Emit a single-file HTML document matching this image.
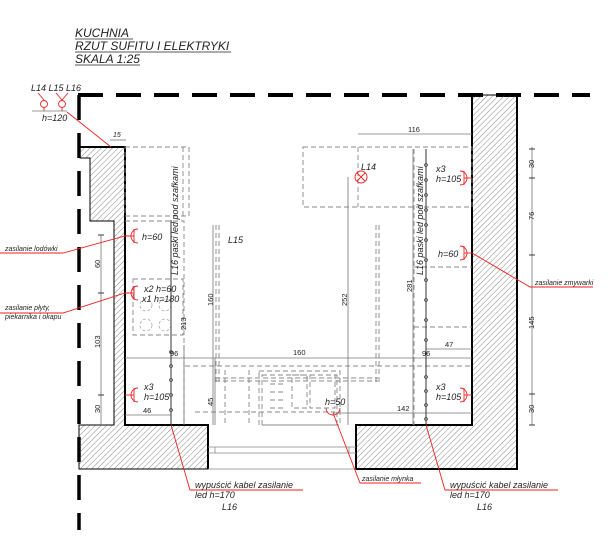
<!DOCTYPE html>
<html><head><style>
html,body{margin:0;padding:0;background:#fff;}
svg{display:block;font-family:"Liberation Sans",sans-serif;font-style:italic;}
</style></head><body>
<svg width="616" height="544" viewBox="0 0 616 544" xmlns="http://www.w3.org/2000/svg">
<defs>
<pattern id="h" patternUnits="userSpaceOnUse" width="4" height="4" patternTransform="rotate(45)">
<line x1="0" y1="0" x2="0" y2="4" stroke="#555" stroke-width="0.7"/>
</pattern>
</defs>
<g font-size="12" fill="#222">
<text x="75" y="37">KUCHNIA</text>
<text x="75" y="50">RZUT SUFITU I ELEKTRYKI</text>
<text x="75" y="63">SKALA 1:25</text>
</g>
<g stroke="#222" stroke-width="0.8">
<line x1="75" y1="39" x2="133" y2="39"/>
<line x1="75" y1="52" x2="231" y2="52"/>
<line x1="75" y1="65" x2="140" y2="65"/>
</g>
<line x1="78" y1="95" x2="590" y2="95" stroke="#000" stroke-width="4" stroke-dasharray="25,13"/>
<line x1="79" y1="95" x2="79" y2="530" stroke="#000" stroke-width="3.5" stroke-dasharray="25,13"/>
<path d="M80,147 H125 V425 H208 V469 H79 V425 H114 V221 H90 V158 H80 Z" fill="url(#h)" stroke="#000" stroke-width="1"/>
<path d="M472,95 H517 V469 H356 V425 H472 Z" fill="url(#h)" stroke="#000" stroke-width="1"/>
<g stroke="#000" stroke-width="2" fill="none">
<path d="M80,147 H125 V425 H208 V469"/>
<path d="M472,95 V425 H356 V469 H517 V95"/>
</g>
<g stroke="#888" stroke-width="0.8">
<line x1="208" y1="447" x2="356" y2="447"/><line x1="208" y1="453" x2="356" y2="453"/>
<line x1="208" y1="469" x2="356" y2="469"/><line x1="215" y1="447" x2="215" y2="453"/><line x1="349" y1="447" x2="349" y2="453"/>
</g>
<g stroke="#888" stroke-width="0.9" fill="none" stroke-dasharray="5,3">
<rect x="125" y="147" width="64" height="69"/>
<line x1="183" y1="147" x2="183" y2="216"/>
<path d="M125,221 H184 V425"/>
<rect x="133" y="279" width="50" height="56"/>
<rect x="303" y="147" width="169" height="60"/>
<line x1="358" y1="147" x2="358" y2="207"/>
<path d="M414,149 V425"/><path d="M414,267 H472"/><path d="M414,327 H472"/>
<line x1="185" y1="366" x2="472" y2="366"/>
<line x1="216" y1="225" x2="216" y2="385"/><line x1="219" y1="225" x2="219" y2="385"/>
<line x1="376" y1="225" x2="376" y2="385"/><line x1="379" y1="225" x2="379" y2="385"/>
<line x1="215" y1="378" x2="378" y2="378"/><line x1="215" y1="381" x2="378" y2="381"/>
<rect x="259" y="371" width="81" height="54"/>
<rect x="262" y="375" width="75" height="50"/>
<rect x="292" y="375" width="15" height="33"/>
<rect x="310" y="375" width="25" height="33"/>
<line x1="225" y1="370" x2="225" y2="425"/><line x1="249" y1="370" x2="249" y2="425"/>
<line x1="270" y1="384" x2="285" y2="384"/><line x1="270" y1="392" x2="285" y2="392"/>
<line x1="270" y1="400" x2="285" y2="400"/><line x1="270" y1="408" x2="285" y2="408"/>
<line x1="195" y1="412" x2="335" y2="412"/>
</g>
<g stroke="#aaa" stroke-width="0.8" fill="none" stroke-dasharray="3,2">
<circle cx="146" cy="305" r="6"/><circle cx="165" cy="305" r="6"/>
<circle cx="146" cy="325" r="6"/><circle cx="165" cy="325" r="6"/>
</g>
<g stroke="#777" stroke-width="0.8" fill="none">
<line x1="184" y1="345" x2="184" y2="425"/>
<line x1="215" y1="358" x2="215" y2="425"/>
<line x1="348" y1="177" x2="348" y2="425"/>
<line x1="213" y1="225" x2="213" y2="425"/>
<line x1="101" y1="235" x2="101" y2="425"/>
<line x1="532" y1="147" x2="532" y2="425"/>
<line x1="413" y1="149" x2="413" y2="425"/>
<line x1="125" y1="358" x2="472" y2="358"/>
<line x1="426" y1="349" x2="472" y2="349"/>
<line x1="333" y1="413" x2="472" y2="413"/>
<line x1="125" y1="415" x2="171" y2="415"/>
<line x1="358" y1="134" x2="472" y2="134"/>
<line x1="110" y1="140" x2="126" y2="140"/>
<line x1="32" y1="111" x2="67" y2="111"/>
</g>
<g stroke="#333" stroke-width="1" fill="#fff">
<line x1="171" y1="220" x2="171" y2="425"/>
<line x1="426" y1="149" x2="426" y2="425"/>
<circle cx="171" cy="352" r="1.3"/><circle cx="171" cy="366" r="1.3"/><circle cx="171" cy="380" r="1.3"/><circle cx="171" cy="395" r="1.3"/><circle cx="171" cy="410" r="1.3"/>
<circle cx="426" cy="165" r="1.3"/><circle cx="426" cy="180" r="1.3"/><circle cx="426" cy="195" r="1.3"/><circle cx="426" cy="210" r="1.3"/><circle cx="426" cy="225" r="1.3"/><circle cx="426" cy="240" r="1.3"/><circle cx="426" cy="260" r="1.3"/><circle cx="426" cy="280" r="1.3"/><circle cx="426" cy="300" r="1.3"/><circle cx="426" cy="320" r="1.3"/><circle cx="426" cy="340" r="1.3"/><circle cx="426" cy="377" r="1.3"/><circle cx="426" cy="391" r="1.3"/><circle cx="426" cy="405" r="1.3"/><circle cx="426" cy="419" r="1.3"/>
</g>
<g stroke="#e22" stroke-width="0.9" fill="none">
<circle cx="44" cy="104" r="3.5"/><circle cx="62" cy="104" r="3.5"/>
<path d="M44,108 V111 M62,108 V111 M38,93 L44,100 M56,93 L62,100 M68,93 L62,100"/>
<line x1="67" y1="112" x2="111" y2="147"/>
<path d="M0,253 H63 L125,236 H134"/><path d="M138,229 A7,7 0 0 0 138,243"/><line x1="134" y1="229" x2="134" y2="243"/>
<path d="M0,313 H63 L125,293 H134"/><path d="M138,286 A7,7 0 0 0 138,300"/><line x1="134" y1="286" x2="134" y2="300"/>
<path d="M125,395 H134"/><path d="M138,388 A7,7 0 0 0 138,402"/><line x1="134" y1="388" x2="134" y2="402"/>
<path d="M472,178 H464"/><path d="M460,171 A7,7 0 0 1 460,185"/><line x1="464" y1="171" x2="464" y2="185"/>
<path d="M472,253 H464"/><path d="M460,246 A7,7 0 0 1 460,260"/><line x1="464" y1="246" x2="464" y2="260"/>
<path d="M472,253 L530,287 H593"/>
<path d="M472,395 H464"/><path d="M460,388 A7,7 0 0 1 460,402"/><line x1="464" y1="388" x2="464" y2="402"/>
<path d="M326,408 A7,7 0 0 0 340,408"/>
<path d="M333,413 L360,483 H421"/>
<path d="M171,425 L190,490 H303"/>
<path d="M426,425 L445,490 H558"/>
<circle cx="361" cy="177" r="6"/><path d="M357,173 L365,181 M365,173 L357,181"/>
</g>
<g font-size="9" fill="#222">
<text x="31" y="91">L14 L15 L16</text>
<text x="42" y="121">h=120</text>
<text x="113" y="137" font-size="7">15</text>
<text x="142" y="240">h=60</text>
<text x="144" y="292">x2 h=60</text>
<text x="142" y="302">x1 h=180</text>
<text x="144" y="390">x3</text>
<text x="144" y="400">h=105</text>
<text x="228" y="243">L15</text>
<text x="361" y="170">L14</text>
<text x="436" y="172">x3</text>
<text x="436" y="182">h=105</text>
<text x="438" y="257">h=60</text>
<text x="436" y="390">x3</text>
<text x="436" y="400">h=105</text>
<text x="325" y="405">h=50</text>
<text x="195" y="488">wypuścić kabel zasilanie</text>
<text x="195" y="498">led h=170</text>
<text x="222" y="510">L16</text>
<text x="450" y="488">wypuścić kabel zasilanie</text>
<text x="450" y="498">led h=170</text>
<text x="477" y="510">L16</text>
<text x="178" y="275" transform="rotate(-90 178 275)">L16 paski led pod szafkami</text>
<text x="423" y="275" transform="rotate(-90 423 275)">L16 paski led pod szafkami</text>
</g>
<g font-size="7" fill="#222">
<text x="5" y="251">zasilanie lodówki</text>
<text x="5" y="310">zasilanie płyty,</text>
<text x="5" y="319">piekarnika i okapu</text>
<text x="535" y="285">zasilanie zmywarki</text>
<text x="362" y="481">zasilanie młynka</text>
</g>
<g font-size="7.5" fill="#222" font-style="normal">
<text x="408" y="132">116</text>
<text x="293" y="355">160</text>
<text x="170" y="356">96</text>
<text x="422" y="356">96</text>
<text x="445" y="347">47</text>
<text x="397" y="411">142</text>
<text x="143" y="413">46</text>
<text x="100" y="268" transform="rotate(-90 100 268)">60</text>
<text x="100" y="348" transform="rotate(-90 100 348)">103</text>
<text x="100" y="413" transform="rotate(-90 100 413)">30</text>
<text x="213" y="306" transform="rotate(-90 213 306)">160</text>
<text x="213" y="406" transform="rotate(-90 213 406)">45</text>
<text x="186" y="330" transform="rotate(-90 186 330)">213</text>
<text x="347" y="306" transform="rotate(-90 347 306)">252</text>
<text x="412" y="292" transform="rotate(-90 412 292)">281</text>
<text x="534" y="168" transform="rotate(-90 534 168)">30</text>
<text x="534" y="220" transform="rotate(-90 534 220)">76</text>
<text x="534" y="329" transform="rotate(-90 534 329)">145</text>
<text x="534" y="413" transform="rotate(-90 534 413)">30</text>
</g>
<g stroke="#000" stroke-width="0.8">
<path d="M529,149 h6 M529,178 h6 M529,255 h6 M529,394 h6 M529,425 h6 M98,235 h6 M98,293 h6 M98,395 h6"/>
</g>
</svg>
</body></html>
